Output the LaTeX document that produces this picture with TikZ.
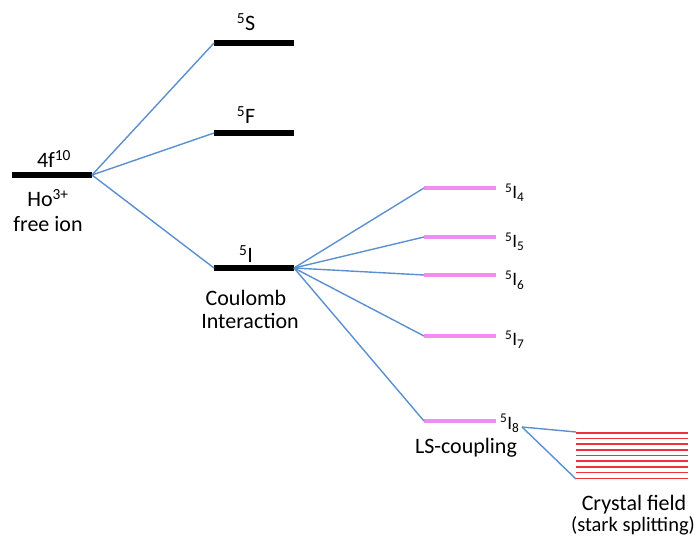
\documentclass[tikz,border=0pt]{standalone}
\usepackage{fontspec}
\setmainfont{Carlito}
\definecolor{connblue}{HTML}{5B8FD0}
\definecolor{pinklev}{HTML}{F28CF0}
\definecolor{redlev}{HTML}{F0303A}
\begin{document}
\begin{tikzpicture}[x=1pt,y=-1pt,
  lev/.style={line width=5.5pt,black},
  plev/.style={line width=4.5pt,pinklev},
  rlev/.style={line width=1.6pt,redlev},
  conn/.style={line width=1.4pt,connblue},
  txt/.style={inner sep=0pt,anchor=base,font=\fontsize{22}{26}\selectfont},
  jtxt/.style={inner sep=0pt,anchor=base west,font=\fontsize{19}{22}\selectfont}]
\useasboundingbox (0,0) rectangle (699,537);
% coordinates of levels
\coordinate (gL) at (12,175);  \coordinate (gR) at (92,175);
\coordinate (sL) at (214,43);  \coordinate (sR) at (294,43);
\coordinate (fL) at (214,133); \coordinate (fR) at (294,133);
\coordinate (iL) at (214,268); \coordinate (iR) at (294,268);
\coordinate (i4L) at (424,188); \coordinate (i4R) at (496,188);
\coordinate (i5L) at (424,237); \coordinate (i5R) at (496,237);
\coordinate (i6L) at (424,275); \coordinate (i6R) at (496,275);
\coordinate (i7L) at (424,336); \coordinate (i7R) at (496,336);
\coordinate (i8L) at (424,421); \coordinate (i8R) at (496,421);
\coordinate (i8o) at (522,427);
\coordinate (cTop) at (576,432); \coordinate (cBot) at (576,479);
% levels
\draw[lev] (gL) -- (gR);
\draw[lev] (sL) -- (sR);
\draw[lev] (fL) -- (fR);
\draw[lev] (iL) -- (iR);
\foreach \k in {4,5,6,7,8} \draw[plev] (i\k L) -- (i\k R);
\foreach \yy in {433,438.5,444,450,455.5,461,467,472.5,478.5}
  \draw[rlev] (576,\yy) -- (688,\yy);
% connectors
\draw[conn] (gR) -- (sL);
\draw[conn] (gR) -- (fL);
\draw[conn] (gR) -- (iL);
\foreach \k in {4,5,6,7,8} \draw[conn] (iR) -- (i\k L);
\draw[conn] (i8o) -- (cTop);
\draw[conn] (i8o) -- (cBot);
% labels
\node[txt] (lg) at (54,168) {4f\textsuperscript{10}};
\node[txt] (lho) at (48,207) {Ho\textsuperscript{3+}};
\node[txt] (lfree) at (48,232) {free ion};
\node[txt] (ls) at (246,31) {\textsuperscript{5}S};
\node[txt] (lf) at (246,124) {\textsuperscript{5}F};
\node[txt] (li) at (246,263) {\textsuperscript{5}I};
\node[txt] (lcou) at (246,306) {Coulomb};
\node[txt] (lint) at (250,329) {Interaction};
\node[jtxt] (l4) at (505,199) {\textsuperscript{5}I\textsubscript{4}};
\node[jtxt] (l5) at (505,248) {\textsuperscript{5}I\textsubscript{5}};
\node[jtxt] (l6) at (505,286) {\textsuperscript{5}I\textsubscript{6}};
\node[jtxt] (l7) at (505,346) {\textsuperscript{5}I\textsubscript{7}};
\node[jtxt] (l8) at (500,429) {\textsuperscript{5}I\textsubscript{8}};
\node[txt] (lls) at (466,453) {LS-coupling};
\node[txt] (lcr) at (634,510) {Crystal field};
\node[txt,font=\fontsize{20.5}{24}\selectfont] (lst) at (633,531) {(stark splitting)};
\end{tikzpicture}
\end{document}
